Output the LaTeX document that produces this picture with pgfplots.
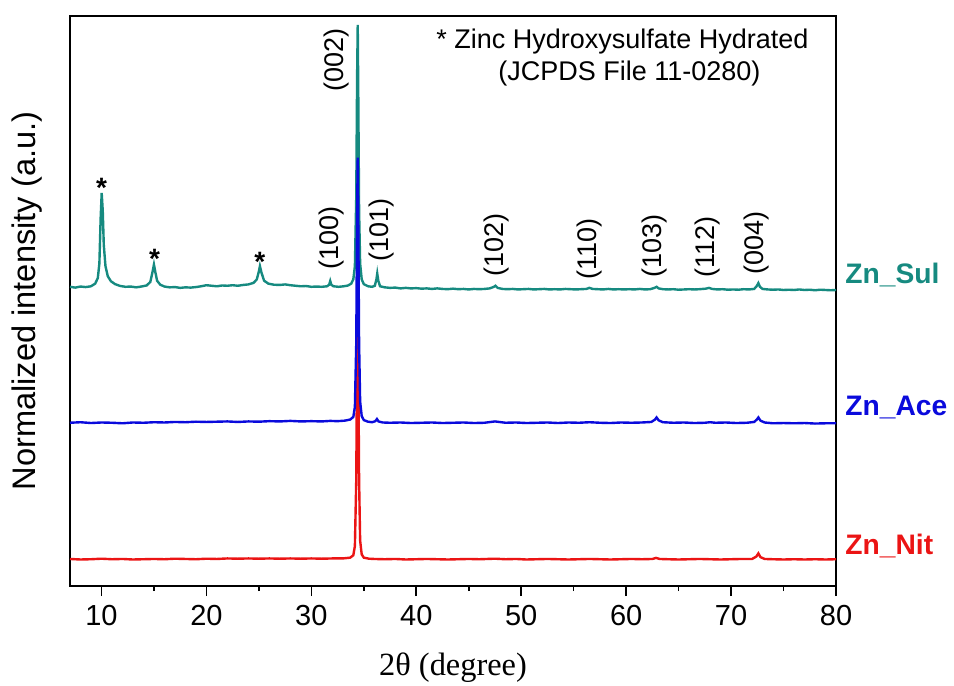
\documentclass[border=0pt]{standalone}
\usepackage{fontspec}
\setmainfont{Liberation Sans}
\newfontfamily\timesfont{Liberation Serif}
\usepackage{pgfplots}
\pgfplotsset{compat=1.18}
\usepackage{pgfplotstable}

\definecolor{sulcol}{RGB}{22,138,128}
\definecolor{acecol}{RGB}{10,10,220}
\definecolor{nitcol}{RGB}{235,20,20}

% normalized intensity (peak = 1), before stacking offsets
\pgfplotstableread{
x I
7.0 0.012
7.5 0.009
8.0 0.013
8.5 0.011
9.0 0.014
9.4 0.024
9.65 0.045
9.8 0.10
9.92 0.27
10.02 0.366
10.12 0.30
10.22 0.17
10.38 0.090
10.6 0.052
10.9 0.033
11.3 0.022
11.8 0.015
12.3 0.012
12.8 0.013
13.3 0.010
13.8 0.013
14.3 0.017
14.65 0.030
14.85 0.065
15.0 0.096
15.12 0.07
15.3 0.035
15.6 0.020
16.0 0.013
16.5 0.010
17.0 0.011
17.5 0.008
18.0 0.010
18.5 0.009
19.0 0.011
19.5 0.014
20.0 0.018
20.5 0.016
21.0 0.014
21.5 0.017
22.0 0.016
22.5 0.018
23.0 0.016
23.5 0.019
24.0 0.021
24.5 0.027
24.8 0.040
25.0 0.070
25.1 0.090
25.25 0.065
25.5 0.035
25.9 0.024
26.4 0.020
27.0 0.019
27.5 0.021
28.0 0.018
28.5 0.016
29.0 0.014
29.5 0.015
30.0 0.012
30.5 0.013
31.0 0.012
31.5 0.014
31.7 0.020
31.8 0.034
31.9 0.020
32.1 0.014
32.6 0.012
33.1 0.014
33.5 0.017
33.8 0.024
34.0 0.040
34.15 0.09
34.28 0.35
34.36 0.80
34.42 1.000
34.48 0.70
34.55 0.30
34.65 0.10
34.8 0.040
35.0 0.022
35.4 0.014
35.8 0.012
36.05 0.016
36.2 0.040
36.28 0.062
36.38 0.035
36.55 0.014
37.0 0.010
37.5 0.008
38.0 0.009
38.5 0.006
39.0 0.008
39.5 0.006
40.0 0.007
40.5 0.005
41.0 0.006
41.5 0.004
42.0 0.006
42.5 0.004
43.0 0.003
43.5 0.005
44.0 0.003
44.5 0.004
45.0 0.002
45.5 0.004
46.0 0.003
46.5 0.004
47.0 0.006
47.4 0.012
47.55 0.016
47.75 0.008
48.2 0.004
48.7 0.003
49.2 0.004
49.7 0.002
50.2 0.003
50.7 0.004
51.2 0.002
51.7 0.003
52.2 0.004
52.7 0.002
53.2 0.003
53.7 0.002
54.2 0.004
54.7 0.003
55.2 0.002
55.7 0.003
56.2 0.004
56.5 0.008
56.8 0.004
57.3 0.003
57.8 0.002
58.3 0.004
58.8 0.002
59.3 0.003
59.8 0.002
60.3 0.003
60.8 0.002
61.3 0.004
61.8 0.002
62.3 0.003
62.7 0.008
62.9 0.012
63.1 0.006
63.5 0.003
64.0 0.002
64.5 0.003
65.0 0.001
65.5 0.002
66.0 0.003
66.5 0.002
67.0 0.003
67.6 0.005
67.9 0.008
68.2 0.004
68.7 0.002
69.2 0.003
69.7 0.001
70.2 0.002
70.7 0.001
71.2 0.003
71.7 0.002
72.2 0.004
72.45 0.015
72.6 0.026
72.75 0.012
73.0 0.004
73.5 0.002
74.0 0.001
74.5 0.002
75.0 0.000
75.5 0.001
76.0 0.000
76.5 0.002
77.0 0.000
77.5 0.001
78.0 -0.001
78.5 0.001
79.0 0.000
79.5 -0.001
80.0 0.000
}\sul

\pgfplotstableread{
x I
7.0 0.000
8.0 0.002
9.0 -0.001
10.0 0.001
11.0 0.000
12.0 -0.002
13.0 0.001
14.0 0.000
15.0 0.002
16.0 0.001
17.0 0.003
18.0 0.002
19.0 0.004
20.0 0.003
21.0 0.004
22.0 0.005
23.0 0.003
24.0 0.005
25.0 0.004
26.0 0.006
27.0 0.005
28.0 0.007
29.0 0.005
30.0 0.006
31.0 0.005
31.8 0.007
32.5 0.006
33.2 0.008
33.7 0.012
34.0 0.022
34.15 0.06
34.28 0.30
34.36 0.78
34.42 1.000
34.48 0.72
34.55 0.30
34.65 0.08
34.8 0.025
35.0 0.010
35.4 0.004
35.8 0.002
36.1 0.006
36.25 0.014
36.4 0.005
36.8 0.001
37.5 0.000
38.5 0.001
39.5 -0.001
40.5 0.000
41.5 0.001
42.5 -0.001
43.5 0.000
44.5 0.001
45.5 -0.001
46.5 0.000
47.5 0.005
48.5 0.000
49.5 0.001
50.5 -0.001
51.5 0.000
52.5 0.001
53.5 -0.001
54.5 0.001
55.5 0.000
56.5 0.002
57.5 0.000
58.5 -0.001
59.5 0.001
60.5 0.000
61.5 0.001
62.4 0.003
62.75 0.012
62.9 0.020
63.1 0.009
63.5 0.002
64.5 0.000
65.5 0.001
66.5 -0.001
67.5 0.000
68.0 0.002
68.5 0.000
69.5 0.001
70.5 -0.001
71.5 0.000
72.2 0.003
72.45 0.012
72.6 0.020
72.8 0.008
73.2 0.001
74.0 -0.002
75.0 -0.001
76.0 -0.002
77.0 -0.001
78.0 -0.003
79.0 -0.002
80.0 -0.002
}\ace

\pgfplotstableread{
x I
7.0 0.001
8.0 -0.001
9.0 0.000
10.0 0.002
11.0 0.000
12.0 0.001
13.0 -0.001
14.0 0.000
15.0 0.001
16.0 0.000
17.0 0.002
18.0 0.001
19.0 0.000
20.0 0.002
21.0 0.001
22.0 0.003
23.0 0.002
24.0 0.003
25.0 0.002
26.0 0.003
27.0 0.002
28.0 0.003
29.0 0.002
30.0 0.003
31.0 0.002
32.0 0.003
33.0 0.003
33.7 0.006
34.0 0.015
34.15 0.05
34.28 0.30
34.36 0.78
34.42 1.000
34.48 0.72
34.55 0.30
34.65 0.07
34.8 0.018
35.0 0.006
35.5 0.002
36.0 0.001
37.0 0.000
38.0 0.001
39.0 -0.001
40.0 0.000
41.0 0.001
42.0 0.000
43.0 -0.001
44.0 0.000
45.0 0.001
46.0 0.000
47.5 0.002
48.5 0.000
49.5 0.001
50.5 -0.001
51.5 0.000
52.5 0.001
53.5 0.000
54.5 -0.001
55.5 0.000
56.5 0.001
57.5 0.000
58.5 -0.001
59.5 0.000
60.5 0.001
61.5 0.000
62.5 0.001
62.85 0.005
63.2 0.001
64.0 0.000
65.0 -0.001
66.0 0.000
67.0 0.001
68.0 0.000
69.0 -0.001
70.0 0.000
71.0 0.001
72.0 0.001
72.4 0.010
72.6 0.022
72.8 0.008
73.2 0.001
74.0 0.000
75.0 -0.001
76.0 0.000
77.0 -0.001
78.0 0.000
79.0 -0.001
80.0 0.000
}\nit

\begin{document}
\begin{tikzpicture}
\begin{axis}[
  scale only axis, width=383pt, height=285pt,
  xmin=7, xmax=80, ymin=0, ymax=2.151,
  xtick={10,20,...,80}, minor xtick={15,25,...,75},
  ytick=\empty,
  xtick pos=bottom, xtick align=outside,
  major tick length=5pt, minor tick length=2.5pt,
  every tick/.style={black, line width=0.8pt},
  axis line style={line width=0.9pt},
  /pgf/number format/assume math mode=true,
  xticklabel style={font=\fontsize{14.5}{16}\selectfont, yshift=-1pt},
  xlabel={\timesfont 2θ (degree)},
  ylabel={Normalized intensity (a.u.)},
  every axis x label/.style={at={(axis description cs:0.5,-0.1439)}, anchor=center, font=\fontsize{16.2}{18}\selectfont},
  every axis y label/.style={at={(axis description cs:-0.0561,0.5)}, rotate=90, anchor=center, font=\fontsize{16.3}{18}\selectfont},
  clip=false,
  every axis plot/.append style={line width=1.2pt},
]
\addplot[sulcol, no marks] table[x=x, y expr=\thisrow{I}+1.117] {\sul};
\addplot[nitcol, no marks] table[x=x, y expr=\thisrow{I}+0.101] {\nit};
\addplot[acecol, no marks] table[x=x, y expr=\thisrow{I}+0.616] {\ace};

% hkl labels
\begin{scope}[every node/.style={rotate=90, anchor=west, inner sep=0pt, font=\fontsize{13.5}{15}\selectfont}]
\node at (axis cs:31.9,1.192) {(100)};
\node at (axis cs:32.4,1.864) {(002)};
\node at (axis cs:36.65,1.222) {(101)};
\node at (axis cs:47.6,1.166) {(102)};
\node at (axis cs:56.5,1.155) {(110)};
\node at (axis cs:62.7,1.162) {(103)};
\node at (axis cs:67.8,1.162) {(112)};
\node at (axis cs:72.4,1.174) {(004)};
\end{scope}

% asterisks
\begin{scope}[every node/.style={anchor=base, inner sep=0pt, font=\bfseries\fontsize{14}{16}\selectfont}]
\node at (axis cs:10.0,1.465) {*};
\node at (axis cs:15.07,1.197) {*};
\node at (axis cs:25.08,1.186) {*};
\end{scope}

\node[anchor=base, inner sep=0pt, font=\fontsize{13.5}{16}\selectfont] at (axis cs:59.65,2.030) {* Zinc Hydroxysulfate Hydrated};
\node[anchor=base, inner sep=0pt, font=\fontsize{13.5}{16}\selectfont] at (axis cs:60.31,1.909) {(JCPDS File 11-0280)};

% sample names
\begin{scope}[every node/.style={anchor=base west, inner sep=0pt, xshift=4.5pt, font=\bfseries\fontsize{14.1}{16}\selectfont}]
\node[text=sulcol] at (axis cs:80,1.143) {Zn\_Sul};
\node[text=acecol] at (axis cs:80,0.645) {Zn\_Ace};
\node[text=nitcol] at (axis cs:80,0.117) {Zn\_Nit};
\end{scope}

\coordinate (bbsw) at (axis cs:0.329,-0.3736);
\coordinate (bbne) at (axis cs:91.245,2.2113);
\end{axis}
\pgfresetboundingbox
\path[use as bounding box] (bbsw) rectangle (bbne);
\end{tikzpicture}
\end{document}
